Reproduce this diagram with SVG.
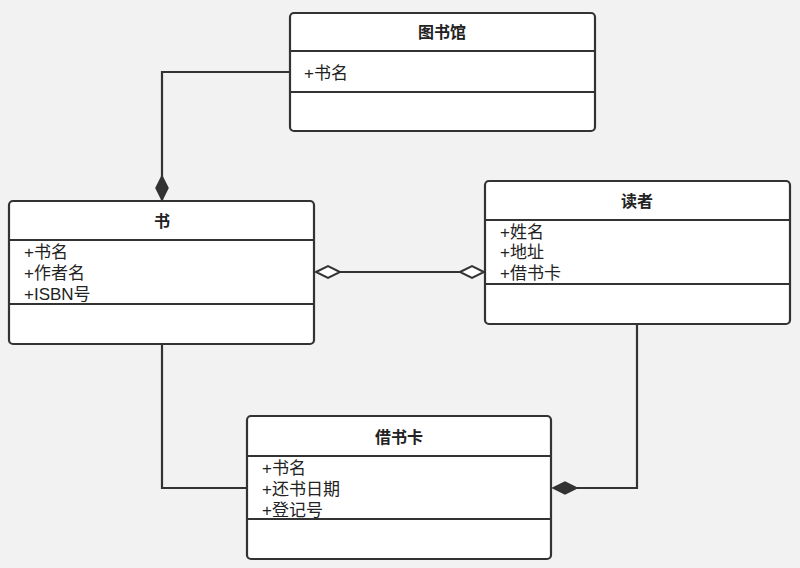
<svg xmlns="http://www.w3.org/2000/svg" width="800" height="568" viewBox="0 0 800 568">
<style>
.box{fill:#fff;stroke:#333;stroke-width:2.2}
.div{stroke:#333;stroke-width:2.2}
.t{font-family:"Liberation Sans","Noto Sans CJK SC",sans-serif;font-size:16px;font-weight:bold;fill:#222;text-anchor:middle}
.a{font-family:"Liberation Sans","Noto Sans CJK SC",sans-serif;font-size:17px;fill:#222}
.ln{fill:none;stroke:#333;stroke-width:2.2}
.fd{fill:#333;stroke:#333;stroke-width:1.5}
.hd{fill:#fff;stroke:#333;stroke-width:2}
</style>
<rect width="800" height="568" fill="#f2f2f2"/>
<g id="connectors">
<path class="ln" d="M290 72 H162 V200"/>
<path class="fd" d="M162 176 L168 188 L162 200 L156 188 Z"/>
<path class="ln" d="M340 272 H460"/>
<path class="hd" d="M316 272 L328 266 L340 272 L328 278 Z"/>
<path class="hd" d="M460 272 L472 266 L484 272 L472 278 Z"/>
<path class="ln" d="M162 344 V488 H247"/>
<path class="ln" d="M637 324 V488 H577"/>
<path class="fd" d="M553 488 L565 482 L577 488 L565 494 Z"/>
</g>
<g id="library">
<rect class="box" x="290" y="13" width="305" height="118" rx="4"/>
<line class="div" x1="290" y1="51" x2="595" y2="51"/>
<line class="div" x1="290" y1="92" x2="595" y2="92"/>
<text class="t" x="442" y="38">图书馆</text>
<text class="a" x="304" y="79">+书名</text>
</g>
<g id="book">
<rect class="box" x="9" y="201" width="305" height="143" rx="4"/>
<line class="div" x1="9" y1="240" x2="314" y2="240"/>
<line class="div" x1="9" y1="304" x2="314" y2="304"/>
<text class="t" x="162" y="227">书</text>
<text class="a" x="24" y="258">+书名</text>
<text class="a" x="24" y="279">+作者名</text>
<text class="a" x="24" y="300">+ISBN号</text>
</g>
<g id="reader">
<rect class="box" x="485" y="181" width="305" height="143" rx="4"/>
<line class="div" x1="485" y1="220" x2="790" y2="220"/>
<line class="div" x1="485" y1="284" x2="790" y2="284"/>
<text class="t" x="637" y="207">读者</text>
<text class="a" x="500" y="238">+姓名</text>
<text class="a" x="500" y="258">+地址</text>
<text class="a" x="500" y="279">+借书卡</text>
</g>
<g id="card">
<rect class="box" x="247" y="416" width="304" height="143" rx="4"/>
<line class="div" x1="247" y1="456" x2="551" y2="456"/>
<line class="div" x1="247" y1="519" x2="551" y2="519"/>
<text class="t" x="399" y="443">借书卡</text>
<text class="a" x="262" y="474">+书名</text>
<text class="a" x="262" y="495">+还书日期</text>
<text class="a" x="262" y="516">+登记号</text>
</g>
</svg>
